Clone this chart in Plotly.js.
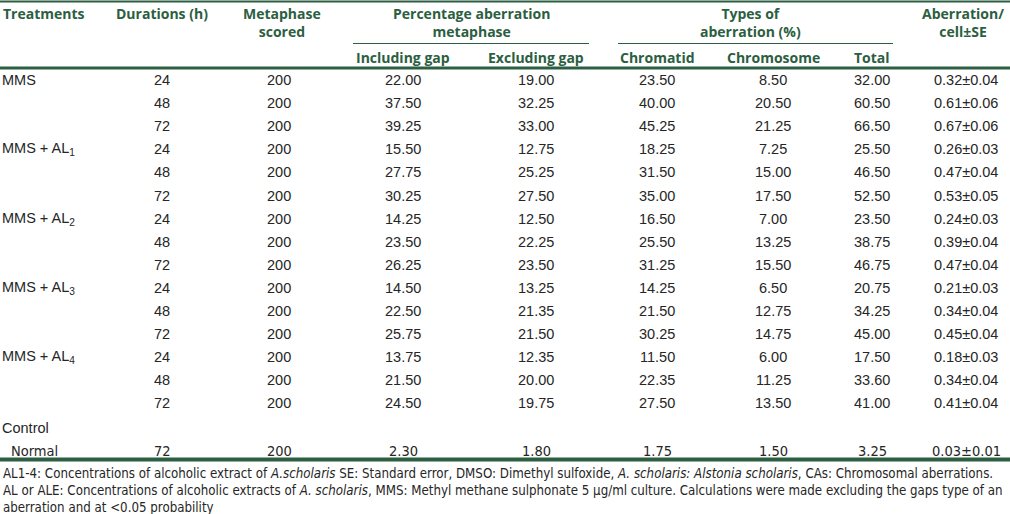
<!DOCTYPE html>
<html>
<head>
<meta charset="utf-8">
<script src="https://cdn.plot.ly/plotly-3.0.1.min.js"></script>
<style>html,body{margin:0;padding:0;background:#fff;}#chart{width:1010px;height:514px;}</style>
</head>
<body>
<div id="chart"></div>
<script>
// ---- data ----
const treatmentGroups = ['MMS', 'MMS + AL<sub>1</sub>', 'MMS + AL<sub>2</sub>', 'MMS + AL<sub>3</sub>', 'MMS + AL<sub>4</sub>'];
const durations = ['24', '48', '72', '24', '48', '72', '24', '48', '72', '24', '48', '72', '24', '48', '72'];
const metaphaseScored = ['200', '200', '200', '200', '200', '200', '200', '200', '200', '200', '200', '200', '200', '200', '200'];
const includingGap = ['22.00', '37.50', '39.25', '15.50', '27.75', '30.25', '14.25', '23.50', '26.25', '14.50', '22.50', '25.75', '13.75', '21.50', '24.50'];
const excludingGap = ['19.00', '32.25', '33.00', '12.75', '25.25', '27.50', '12.50', '22.25', '23.50', '13.25', '21.35', '21.50', '12.35', '20.00', '19.75'];
const chromatid = ['23.50', '40.00', '45.25', '18.25', '31.50', '35.00', '16.50', '25.50', '31.25', '14.25', '21.50', '30.25', '11.50', '22.35', '27.50'];
const chromosome = ['8.50', '20.50', '21.25', '7.25', '15.00', '17.50', '7.00', '13.25', '15.50', '6.50', '12.75', '14.75', '6.00', '11.25', '13.50'];
const totalAberr = ['32.00', '60.50', '66.50', '25.50', '46.50', '52.50', '23.50', '38.75', '46.75', '20.75', '34.25', '45.00', '17.50', '33.60', '41.00'];
const aberrPerCell = ['0.32±0.04', '0.61±0.06', '0.67±0.06', '0.26±0.03', '0.47±0.04', '0.53±0.05', '0.24±0.03', '0.39±0.04', '0.47±0.04', '0.21±0.03', '0.34±0.04', '0.45±0.04', '0.18±0.03', '0.34±0.04', '0.41±0.04'];
const controlGroup = 'Control';
const controlRow = ['Normal', '72', '200', '2.30', '1.80', '1.75', '1.50', '3.25', '0.03±0.01'];
const headerTop = ['Treatments', 'Durations (h)', 'Metaphase<br>scored', 'Percentage aberration<br>metaphase', 'Types of<br>aberration (%)', 'Aberration/<br>cell±SE'];
const headerSub = ['Including gap', 'Excluding gap', 'Chromatid', 'Chromosome', 'Total'];
const footnotes = [
  'AL1-4: Concentrations of alcoholic extract of <i>A.scholaris</i> SE: Standard error, DMSO: Dimethyl sulfoxide, <i>A. scholaris: Alstonia scholaris</i>, CAs: Chromosomal aberrations.',
  'AL or ALE: Concentrations of alcoholic extracts of <i>A. scholaris</i>, MMS: Methyl methane sulphonate 5 μg/ml culture. Calculations were made excluding the gaps type of an',
  'aberration and at <0.05 probability'
];

// ---- layout geometry ----
const GREEN = '#2c5e41';
const TXT = '#262626';
const colX = [3, 162, 279, 403, 536, 657, 773, 872, 966];
const row0 = 80, rowH = 23.1;
const bodyFont = {family: 'Liberation Sans, Arial, sans-serif', size: 14.5, color: TXT};
const headFont = {family: 'Open Sans, Noto Sans, sans-serif', size: 14, color: GREEN, weight: 700};
const narrowFont = {family: 'Liberation Sans Narrow, DejaVu Sans Condensed, sans-serif', size: 14.5, color: TXT};
const footFont = {family: 'Liberation Sans Narrow, DejaVu Sans Condensed, sans-serif', size: 13.2, color: TXT};

const ann = [];
function add(text, x, y, font, xanchor) {
  ann.push({text: text, x: x, y: y, xref: 'x', yref: 'y', showarrow: false,
            xanchor: xanchor || 'center', yanchor: 'middle', font: font, align: 'center'});
}
// header
add(headerTop[0], 1, 13, headFont, 'left');
add(headerTop[1], colX[1], 13, headFont);
add(headerTop[2], 282, 22, headFont);
add(headerTop[3], 471, 22, headFont);
add(headerTop[4], 750, 22, headFont);
add(headerTop[5], 963, 22, headFont);
for (let k = 0; k < headerSub.length; k++) add(headerSub[k], colX[3 + k], 57, headFont);

// body rows
const cols = [durations, metaphaseScored, includingGap, excludingGap, chromatid, chromosome, totalAberr, aberrPerCell];
for (let i = 0; i < durations.length; i++) {
  const y = row0 + rowH * i;
  if (i % 3 === 0) add(treatmentGroups[i / 3], 0, y, bodyFont, 'left');
  for (let c = 0; c < cols.length; c++) add(cols[c][i], colX[c + 1], y, bodyFont);
}
const yCtrl = row0 + rowH * durations.length + 1;
add(controlGroup, 0, yCtrl, bodyFont, 'left');
const yNorm = yCtrl + rowH;
add(controlRow[0], 9, yNorm, narrowFont, 'left');
for (let c = 1; c < controlRow.length; c++) add(controlRow[c], colX[c], yNorm, narrowFont);

// footnotes
for (let f = 0; f < footnotes.length; f++) add(footnotes[f], 1, 473 + f * 17, footFont, 'left');

const shapes = [
  {type: 'line', xref: 'x', yref: 'y', x0: 0, x1: 1010, y0: 1.5, y1: 1.5, line: {color: GREEN, width: 2}},
  {type: 'line', xref: 'x', yref: 'y', x0: 353, x1: 589, y0: 43.5, y1: 43.5, line: {color: GREEN, width: 1.2}},
  {type: 'line', xref: 'x', yref: 'y', x0: 618, x1: 893, y0: 43.5, y1: 43.5, line: {color: GREEN, width: 1.2}},
  {type: 'line', xref: 'x', yref: 'y', x0: 0, x1: 1010, y0: 68, y1: 68, line: {color: GREEN, width: 3}},
  {type: 'line', xref: 'x', yref: 'y', x0: 0, x1: 1010, y0: 459.5, y1: 459.5, line: {color: GREEN, width: 4}}
];

const layout = {
  width: 1010, height: 514,
  margin: {l: 0, r: 0, t: 0, b: 0},
  paper_bgcolor: '#ffffff', plot_bgcolor: '#ffffff',
  xaxis: {range: [0, 1010], visible: false, fixedrange: true},
  yaxis: {range: [514, 0], visible: false, fixedrange: true},
  showlegend: false,
  annotations: ann,
  shapes: shapes
};
Plotly.newPlot('chart', [{x: [], y: [], type: 'scatter', mode: 'markers'}], layout, {displayModeBar: false, staticPlot: true});
</script>
</body>
</html>
